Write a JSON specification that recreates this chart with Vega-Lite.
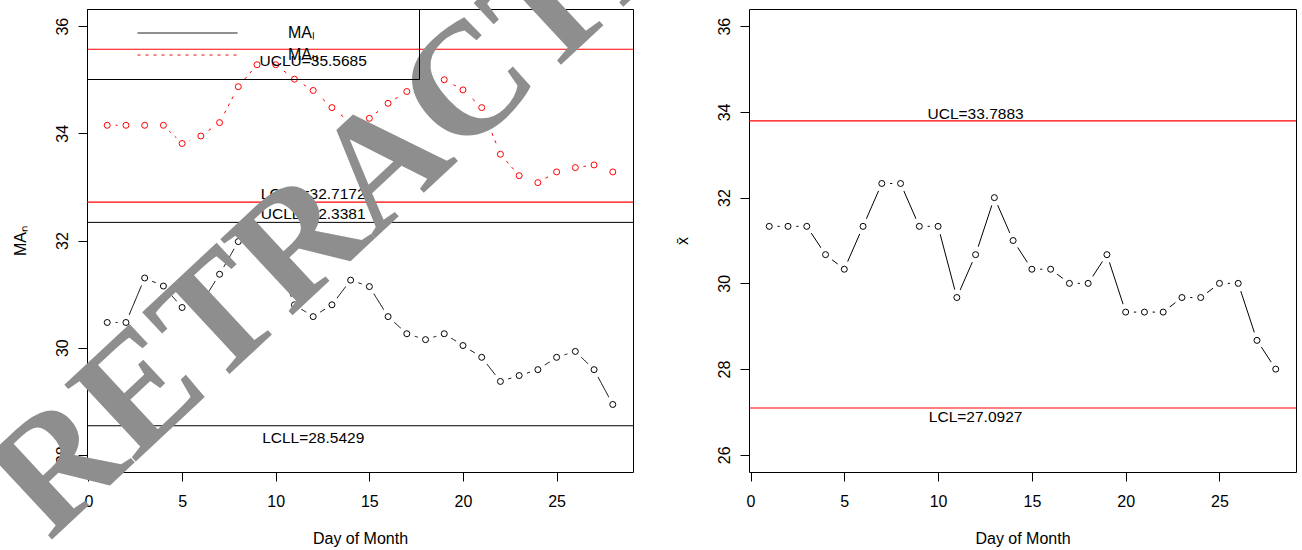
{
  "$schema": "https://vega.github.io/schema/vega-lite/v6.json",
  "autosize": {"type": "none"},
  "padding": {"left": 87, "top": 9, "right": 1215, "bottom": 541},
  "background": "white",
  "config": {
    "font": "Liberation Sans",
    "view": {"stroke": "black", "strokeWidth": 1},
    "axis": {"domain": false, "grid": false, "tickColor": "black", "tickSize": 9, "tickWidth": 1, "labelColor": "black", "labelFont": "Liberation Sans", "labelFontSize": 16, "titleColor": "black", "titleFont": "Liberation Sans", "titleFontSize": 16, "titleFontWeight": "normal"}
  },
  "datasets": {
    "ma": [
      {"day": 1, "series": "L", "value": 30.47}, {"day": 2, "series": "L", "value": 30.47}, {"day": 3, "series": "L", "value": 31.30}, {"day": 4, "series": "L", "value": 31.15}, {"day": 5, "series": "L", "value": 30.75}, {"day": 6, "series": "L", "value": 30.81}, {"day": 7, "series": "L", "value": 31.37}, {"day": 8, "series": "L", "value": 31.98}, {"day": 9, "series": "L", "value": 32.05}, {"day": 10, "series": "L", "value": 31.69}, {"day": 11, "series": "L", "value": 30.80}, {"day": 12, "series": "L", "value": 30.58}, {"day": 13, "series": "L", "value": 30.80}, {"day": 14, "series": "L", "value": 31.26}, {"day": 15, "series": "L", "value": 31.14}, {"day": 16, "series": "L", "value": 30.58}, {"day": 17, "series": "L", "value": 30.26}, {"day": 18, "series": "L", "value": 30.15}, {"day": 19, "series": "L", "value": 30.26}, {"day": 20, "series": "L", "value": 30.04}, {"day": 21, "series": "L", "value": 29.82}, {"day": 22, "series": "L", "value": 29.37}, {"day": 23, "series": "L", "value": 29.48}, {"day": 24, "series": "L", "value": 29.59}, {"day": 25, "series": "L", "value": 29.82}, {"day": 26, "series": "L", "value": 29.93}, {"day": 27, "series": "L", "value": 29.59}, {"day": 28, "series": "L", "value": 28.94},
      {"day": 1, "series": "U", "value": 34.15}, {"day": 2, "series": "U", "value": 34.15}, {"day": 3, "series": "U", "value": 34.15}, {"day": 4, "series": "U", "value": 34.15}, {"day": 5, "series": "U", "value": 33.81}, {"day": 6, "series": "U", "value": 33.95}, {"day": 7, "series": "U", "value": 34.20}, {"day": 8, "series": "U", "value": 34.87}, {"day": 9, "series": "U", "value": 35.28}, {"day": 10, "series": "U", "value": 35.28}, {"day": 11, "series": "U", "value": 35.01}, {"day": 12, "series": "U", "value": 34.80}, {"day": 13, "series": "U", "value": 34.48}, {"day": 14, "series": "U", "value": 34.20}, {"day": 15, "series": "U", "value": 34.28}, {"day": 16, "series": "U", "value": 34.56}, {"day": 17, "series": "U", "value": 34.78}, {"day": 18, "series": "U", "value": 34.95}, {"day": 19, "series": "U", "value": 35.00}, {"day": 20, "series": "U", "value": 34.81}, {"day": 21, "series": "U", "value": 34.48}, {"day": 22, "series": "U", "value": 33.61}, {"day": 23, "series": "U", "value": 33.21}, {"day": 24, "series": "U", "value": 33.08}, {"day": 25, "series": "U", "value": 33.28}, {"day": 26, "series": "U", "value": 33.36}, {"day": 27, "series": "U", "value": 33.41}, {"day": 28, "series": "U", "value": 33.28}
    ],
    "xbar": [
      {"day": 1, "value": 31.33}, {"day": 2, "value": 31.33}, {"day": 3, "value": 31.33}, {"day": 4, "value": 30.67}, {"day": 5, "value": 30.33}, {"day": 6, "value": 31.33}, {"day": 7, "value": 32.33}, {"day": 8, "value": 32.33}, {"day": 9, "value": 31.33}, {"day": 10, "value": 31.33}, {"day": 11, "value": 29.67}, {"day": 12, "value": 30.67}, {"day": 13, "value": 32.0}, {"day": 14, "value": 31.0}, {"day": 15, "value": 30.33}, {"day": 16, "value": 30.33}, {"day": 17, "value": 30.0}, {"day": 18, "value": 30.0}, {"day": 19, "value": 30.67}, {"day": 20, "value": 29.33}, {"day": 21, "value": 29.33}, {"day": 22, "value": 29.33}, {"day": 23, "value": 29.67}, {"day": 24, "value": 29.67}, {"day": 25, "value": 30.0}, {"day": 26, "value": 30.0}, {"day": 27, "value": 28.67}, {"day": 28, "value": 28.0}
    ],
    "limitsN": [
      {"limit": "UCLU", "band": "U", "value": 35.5685, "text": "UCLU=35.5685"},
      {"limit": "LCLU", "band": "U", "value": 32.7172, "text": "LCLU=32.7172"},
      {"limit": "UCLL", "band": "L", "value": 32.3381, "text": "UCLL=32.3381"},
      {"limit": "LCLL", "band": "L", "value": 28.5429, "text": "LCLL=28.5429"}
    ],
    "limitsX": [
      {"limit": "UCL", "value": 33.7883, "text": "UCL=33.7883"},
      {"limit": "LCL", "value": 27.0927, "text": "LCL=27.0927"}
    ],
    "stamp": [
      {"word": "RETRACTED"}
    ]
  },
  "bounds": "flush",
  "spacing": 116,
  "hconcat": [
    {
      "width": 546,
      "height": 463,
      "layer": [
        {
          "data": {"name": "limitsN"},
          "transform": [{"filter": "datum.band == 'U'"}],
          "mark": {"type": "rule", "color": "red", "strokeWidth": 1.2},
          "encoding": {
            "y": {"field": "value", "type": "quantitative", "scale": {"domain": [27.68, 36.32], "nice": false, "zero": false}, "axis": {"title": "MAₙ", "values": [28, 30, 32, 34, 36], "labelAngle": -90, "labelAlign": "center", "labelBaseline": "alphabetic", "labelPadding": 11, "titlePadding": 26}}
          }
        },
        {
          "data": {"name": "limitsN"},
          "transform": [{"filter": "datum.band == 'L'"}],
          "mark": {"type": "rule", "color": "black", "strokeWidth": 1},
          "encoding": {
            "y": {"field": "value", "type": "quantitative", "scale": {"domain": [27.68, 36.32], "nice": false, "zero": false}, "axis": {"title": "MAₙ", "values": [28, 30, 32, 34, 36], "labelAngle": -90, "labelAlign": "center", "labelBaseline": "alphabetic", "labelPadding": 11, "titlePadding": 26}}
          }
        },
        {
          "data": {"name": "ma"},
          "mark": {"type": "line", "strokeWidth": 1},
          "encoding": {
            "x": {"field": "day", "type": "quantitative", "scale": {"domain": [-0.08, 29.08], "nice": false, "zero": false}, "axis": {"title": "Day of Month", "values": [0, 5, 10, 15, 20, 25], "labelPadding": 12, "titlePadding": 21, "labelFlush": false}},
            "y": {"field": "value", "type": "quantitative", "scale": {"domain": [27.68, 36.32], "nice": false, "zero": false}, "axis": {"title": "MAₙ", "values": [28, 30, 32, 34, 36], "labelAngle": -90, "labelAlign": "center", "labelBaseline": "alphabetic", "labelPadding": 11, "titlePadding": 26}},
            "color": {"field": "series", "type": "nominal", "scale": {"domain": ["L", "U"], "range": ["black", "red"]}, "legend": {"title": " ", "titleOrient": "right", "titlePadding": 85, "orient": "top-left", "offset": 0, "padding": 16, "strokeColor": "black", "symbolType": "stroke", "symbolSize": 10000, "symbolStrokeWidth": 1, "symbolOffset": 34, "clipHeight": 16, "rowPadding": 6, "labelOffset": 50, "labelFontSize": 16, "labelFont": "Liberation Sans", "labelColor": "black", "labelExpr": "datum.value == 'L' ? 'MAₗ' : 'MAᵤ'"}},
            "strokeDash": {"field": "series", "type": "nominal", "scale": {"domain": ["L", "U"], "range": [[1, 0], [3, 5]]}, "legend": {"title": " ", "titleOrient": "right", "titlePadding": 85, "orient": "top-left", "offset": 0, "padding": 16, "strokeColor": "black", "symbolType": "stroke", "symbolSize": 10000, "symbolStrokeWidth": 1, "symbolOffset": 34, "clipHeight": 16, "rowPadding": 6, "labelOffset": 50, "labelFontSize": 16, "labelFont": "Liberation Sans", "labelColor": "black", "labelExpr": "datum.value == 'L' ? 'MAₗ' : 'MAᵤ'"}}
          }
        },
        {
          "data": {"name": "ma"},
          "mark": {"type": "point", "shape": "circle", "filled": true, "color": "white", "size": 275, "opacity": 1, "strokeWidth": 0},
          "encoding": {
            "x": {"field": "day", "type": "quantitative", "scale": {"domain": [-0.08, 29.08], "nice": false, "zero": false}},
            "y": {"field": "value", "type": "quantitative", "scale": {"domain": [27.68, 36.32], "nice": false, "zero": false}}
          }
        },
        {
          "data": {"name": "ma"},
          "transform": [{"filter": "datum.series == 'L'"}],
          "mark": {"type": "point", "shape": "circle", "filled": false, "color": "black", "size": 36, "opacity": 1, "strokeWidth": 1},
          "encoding": {
            "x": {"field": "day", "type": "quantitative", "scale": {"domain": [-0.08, 29.08], "nice": false, "zero": false}},
            "y": {"field": "value", "type": "quantitative", "scale": {"domain": [27.68, 36.32], "nice": false, "zero": false}}
          }
        },
        {
          "data": {"name": "ma"},
          "transform": [{"filter": "datum.series == 'U'"}],
          "mark": {"type": "point", "shape": "circle", "filled": false, "color": "red", "size": 36, "opacity": 1, "strokeWidth": 1},
          "encoding": {
            "x": {"field": "day", "type": "quantitative", "scale": {"domain": [-0.08, 29.08], "nice": false, "zero": false}},
            "y": {"field": "value", "type": "quantitative", "scale": {"domain": [27.68, 36.32], "nice": false, "zero": false}}
          }
        },
        {
          "data": {"name": "limitsN"},
          "transform": [{"filter": "datum.limit == 'LCLU' || datum.limit == 'UCLL'"}],
          "mark": {"type": "text", "align": "center", "baseline": "alphabetic", "dy": -3, "fontSize": 15.5, "font": "Liberation Sans", "color": "black"},
          "encoding": {
            "x": {"datum": 12, "type": "quantitative", "scale": {"domain": [-0.08, 29.08], "nice": false, "zero": false}},
            "y": {"field": "value", "type": "quantitative", "scale": {"domain": [27.68, 36.32], "nice": false, "zero": false}},
            "text": {"field": "text"}
          }
        },
        {
          "data": {"name": "limitsN"},
          "transform": [{"filter": "datum.limit == 'UCLU' || datum.limit == 'LCLL'"}],
          "mark": {"type": "text", "align": "center", "baseline": "top", "dy": 5, "fontSize": 15.5, "font": "Liberation Sans", "color": "black"},
          "encoding": {
            "x": {"datum": 12, "type": "quantitative", "scale": {"domain": [-0.08, 29.08], "nice": false, "zero": false}},
            "y": {"field": "value", "type": "quantitative", "scale": {"domain": [27.68, 36.32], "nice": false, "zero": false}},
            "text": {"field": "text"}
          }
        },
        {
          "data": {"name": "stamp"},
          "mark": {"type": "text", "align": "center", "baseline": "middle", "angle": -43, "fontSize": 160, "font": "Liberation Serif", "fontWeight": "bold", "color": "#8e8e8e"},
          "encoding": {
            "x": {"datum": 15.77, "type": "quantitative", "scale": {"domain": [-0.08, 29.08], "nice": false, "zero": false}},
            "y": {"datum": 33.42, "type": "quantitative", "scale": {"domain": [27.68, 36.32], "nice": false, "zero": false}},
            "text": {"field": "word"}
          }
        }
      ]
    },
    {
      "width": 547,
      "height": 463,
      "layer": [
        {
          "data": {"name": "limitsX"},
          "mark": {"type": "rule", "color": "red", "strokeWidth": 1.2},
          "encoding": {
            "y": {"field": "value", "type": "quantitative", "scale": {"domain": [25.6, 36.4], "nice": false, "zero": false}, "axis": {"title": "x̄", "values": [26, 28, 30, 32, 34, 36], "labelAngle": -90, "labelAlign": "center", "labelBaseline": "alphabetic", "labelPadding": 11, "titlePadding": 26}}
          }
        },
        {
          "data": {"name": "xbar"},
          "mark": {"type": "line", "strokeWidth": 1, "color": "black"},
          "encoding": {
            "x": {"field": "day", "type": "quantitative", "scale": {"domain": [-0.08, 29.08], "nice": false, "zero": false}, "axis": {"title": "Day of Month", "values": [0, 5, 10, 15, 20, 25], "labelPadding": 12, "titlePadding": 21, "labelFlush": false}},
            "y": {"field": "value", "type": "quantitative", "scale": {"domain": [25.6, 36.4], "nice": false, "zero": false}, "axis": {"title": "x̄", "values": [26, 28, 30, 32, 34, 36], "labelAngle": -90, "labelAlign": "center", "labelBaseline": "alphabetic", "labelPadding": 11, "titlePadding": 26}}
          }
        },
        {
          "data": {"name": "xbar"},
          "mark": {"type": "point", "shape": "circle", "filled": true, "color": "white", "size": 275, "opacity": 1, "strokeWidth": 0},
          "encoding": {
            "x": {"field": "day", "type": "quantitative", "scale": {"domain": [-0.08, 29.08], "nice": false, "zero": false}},
            "y": {"field": "value", "type": "quantitative", "scale": {"domain": [25.6, 36.4], "nice": false, "zero": false}}
          }
        },
        {
          "data": {"name": "xbar"},
          "mark": {"type": "point", "shape": "circle", "filled": false, "color": "black", "size": 36, "opacity": 1, "strokeWidth": 1},
          "encoding": {
            "x": {"field": "day", "type": "quantitative", "scale": {"domain": [-0.08, 29.08], "nice": false, "zero": false}},
            "y": {"field": "value", "type": "quantitative", "scale": {"domain": [25.6, 36.4], "nice": false, "zero": false}}
          }
        },
        {
          "data": {"name": "limitsX"},
          "transform": [{"filter": "datum.limit == 'UCL'"}],
          "mark": {"type": "text", "align": "center", "baseline": "alphabetic", "dy": -1.5, "fontSize": 15.5, "font": "Liberation Sans", "color": "black"},
          "encoding": {
            "x": {"datum": 12, "type": "quantitative", "scale": {"domain": [-0.08, 29.08], "nice": false, "zero": false}},
            "y": {"field": "value", "type": "quantitative", "scale": {"domain": [25.6, 36.4], "nice": false, "zero": false}},
            "text": {"field": "text"}
          }
        },
        {
          "data": {"name": "limitsX"},
          "transform": [{"filter": "datum.limit == 'LCL'"}],
          "mark": {"type": "text", "align": "center", "baseline": "top", "dy": 2, "fontSize": 15.5, "font": "Liberation Sans", "color": "black"},
          "encoding": {
            "x": {"datum": 12, "type": "quantitative", "scale": {"domain": [-0.08, 29.08], "nice": false, "zero": false}},
            "y": {"field": "value", "type": "quantitative", "scale": {"domain": [25.6, 36.4], "nice": false, "zero": false}},
            "text": {"field": "text"}
          }
        }
      ]
    }
  ]
}
